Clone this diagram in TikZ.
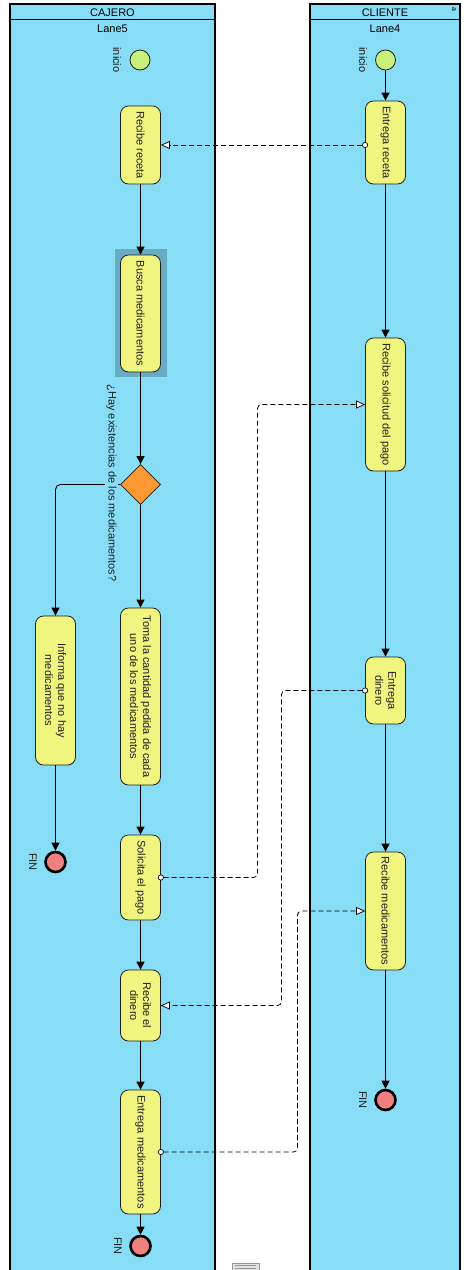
\documentclass[tikz,border=0pt]{standalone}
\usepackage{fontspec}
\setmainfont{Liberation Sans}
\usetikzlibrary{arrows.meta,shapes.geometric,calc}
\definecolor{lanefill}{RGB}{135,221,245}
\definecolor{taskfill}{RGB}{240,245,128}
\definecolor{startfill}{RGB}{200,240,125}
\definecolor{endfill}{RGB}{240,128,128}
\definecolor{gwfill}{RGB}{255,153,51}
\definecolor{selfill}{RGB}{104,172,196}
\definecolor{inkc}{RGB}{30,30,30}
\definecolor{handlefill}{RGB}{226,226,226}
\definecolor{handleline}{RGB}{150,150,150}

\begin{document}
\begin{tikzpicture}[x=1pt,y=-1pt,
  font=\fontsize{11}{13}\selectfont,
  pooledge/.style={draw=black, line width=1.3pt},
  task/.style={draw=inkc, line width=0.8pt, fill=taskfill, rounded corners=8pt,
    minimum width=40pt, inner sep=0pt},
  tasklabel/.style={rotate=-90, align=center, text=inkc, inner sep=0pt},
  startev/.style={circle, draw=inkc, line width=0.8pt, fill=startfill,
    minimum size=20pt, inner sep=0pt},
  endev/.style={circle, draw=black, line width=2.6pt, fill=endfill,
    minimum size=20pt, inner sep=0pt},
  gateway/.style={diamond, draw=inkc, line width=0.8pt, fill=gwfill,
    minimum width=40pt, minimum height=40pt, inner sep=0pt},
  evlabel/.style={rotate=-90, text=inkc, inner sep=0pt},
  flow/.style={draw=black, line width=0.9pt, -{Triangle[length=8pt,width=8pt]}},
  msg/.style={draw=black, line width=0.8pt, dash pattern=on 5pt off 3pt,
    rounded corners=4pt, shorten <=-3pt,
    {Circle[open,length=6pt,width=6pt,fill=white,line width=0.7pt]}-{Triangle[open,length=9pt,width=8pt,fill=white,line width=0.7pt]}},
]
\useasboundingbox (0,0) rectangle (469,1270);

% ---- pools ----
\fill[lanefill] (10,4) rectangle (215,1275);
\draw[pooledge] (10,1275) -- (10,4) -- (215,4) -- (215,1275);
\draw[pooledge] (10,19.5) -- (215,19.5);
\node (cajero) at (112.5,12.5) {CAJERO};
\node (lane5) at (112.5,29) {Lane5};

\fill[lanefill] (310,4) rectangle (460,1275);
\draw[pooledge] (310,1275) -- (310,4) -- (460,4) -- (460,1275);
\draw[pooledge] (310,19.5) -- (460,19.5);
\node (cliente) at (385,12.5) {CLIENTE};
\node (lane4) at (385,29) {Lane4};
\node[rotate=-90, font=\fontsize{7}{7}\selectfont, inner sep=0pt] (pinmark) at (454,9) {a};

% collapse handle at the bottom
\draw[handleline, fill=handlefill, line width=0.5pt] (232,1263) rectangle (259,1272);
\draw[handleline, line width=0.8pt] (235,1265) -- (256,1265) (235,1268) -- (256,1268);

% ---- CAJERO lane ----
\node[startev] (s1) at (140,60) {};
\node[evlabel] (s1l) at (117,60) {inicio};

\node[task, minimum height=78pt] (rr) at (140.5,145) {};
\node[tasklabel] (rrt) at (rr) {Recibe receta};

\fill[selfill] (115,249) rectangle (167,377);
\node[task, minimum height=117pt] (bm) at (140.5,313.5) {};
\node[tasklabel] (bmt) at (bm) {Busca medicamentos};

\node[gateway] (gw) at (140.5,484.5) {};

\node[task, minimum height=149pt] (inf) at (55.5,690.5) {};
\node[tasklabel] (inft) at (inf) {Informa que no hay\\medicamentos};
\node[endev] (f1) at (55.5,862) {};
\node[evlabel] (f1l) at (33,862) {FIN};

\node[task, minimum height=177pt] (tc) at (140.5,696.5) {};
\node[tasklabel] (tct) at (tc) {Toma la cantidad pedida de cada\\uno de los medicamentos};

\node[task, minimum height=85pt] (sp) at (140.5,877.5) {};
\node[tasklabel] (spt) at (sp) {Solicita el pago};

\node[task, minimum height=71pt] (rd) at (140.5,1005.5) {};
\node[tasklabel] (rdt) at (rd) {Recibe el\\dinero};

\node[task, minimum height=124pt] (em) at (140.5,1152) {};
\node[tasklabel] (emt) at (em) {Entrega medicamentos};

\node[endev] (f2) at (140.5,1246) {};
\node[evlabel] (f2l) at (118,1246) {FIN};

% ---- CLIENTE lane ----
\node[startev] (s2) at (385.5,60) {};
\node[evlabel] (s2l) at (363,60) {inicio};

\node[task, minimum height=83pt] (er) at (385.5,142.5) {};
\node[tasklabel] (ert) at (er) {Entrega receta};

\node[task, minimum height=133pt] (rs) at (385.5,404.5) {};
\node[tasklabel] (rst) at (rs) {Recibe solicitud del pago};

\node[task, minimum height=67pt] (ed) at (385.5,690.5) {};
\node[tasklabel] (edt) at (ed) {Entrega\\dinero};

\node[task, minimum height=118pt] (rm) at (385.5,911) {};
\node[tasklabel] (rmt) at (rm) {Recibe medicamentos};

\node[endev] (f3) at (385.5,1100) {};
\node[evlabel] (f3l) at (363,1100) {FIN};

% ---- sequence flows ----
\draw[flow] (rr) -- (bm);
\draw[flow] (bm) -- (gw);
\draw[flow] (gw) -- (tc);
\draw[flow, rounded corners=5pt] (gw.west) -| (inf.north);
\draw[flow] (inf) -- (f1);
\draw[flow] (tc) -- (sp);
\draw[flow] (sp) -- (rd);
\draw[flow] (rd) -- (em);
\draw[flow] (em) -- (f2);

\draw[flow] (s2) -- (er);
\draw[flow] (er) -- (rs);
\draw[flow] (rs) -- (ed);
\draw[flow] (ed) -- (rm);
\draw[flow] (rm) -- (f3);

% gateway question, set over the branch line
\node[evlabel, fill=lanefill, inner sep=1pt] (gwl) at (111.5,483) {¿Hay existencias de los medicamentos?};

% ---- message flows ----
\coordinate (m1) at (257.5,0);
\coordinate (m2) at (281.5,0);
\coordinate (m3) at (297.5,0);
\draw[msg] (rr.east -| er.west) -- (rr.east);
\draw[msg] (sp.east) -| (m1 |- rs.west) -- (rs.west);
\draw[msg] (ed.west) -| (m2 |- rd.east) -- (rd.east);
\draw[msg] (em.east) -| (m3 |- rm.west) -- (rm.west);
\end{tikzpicture}
\end{document}
